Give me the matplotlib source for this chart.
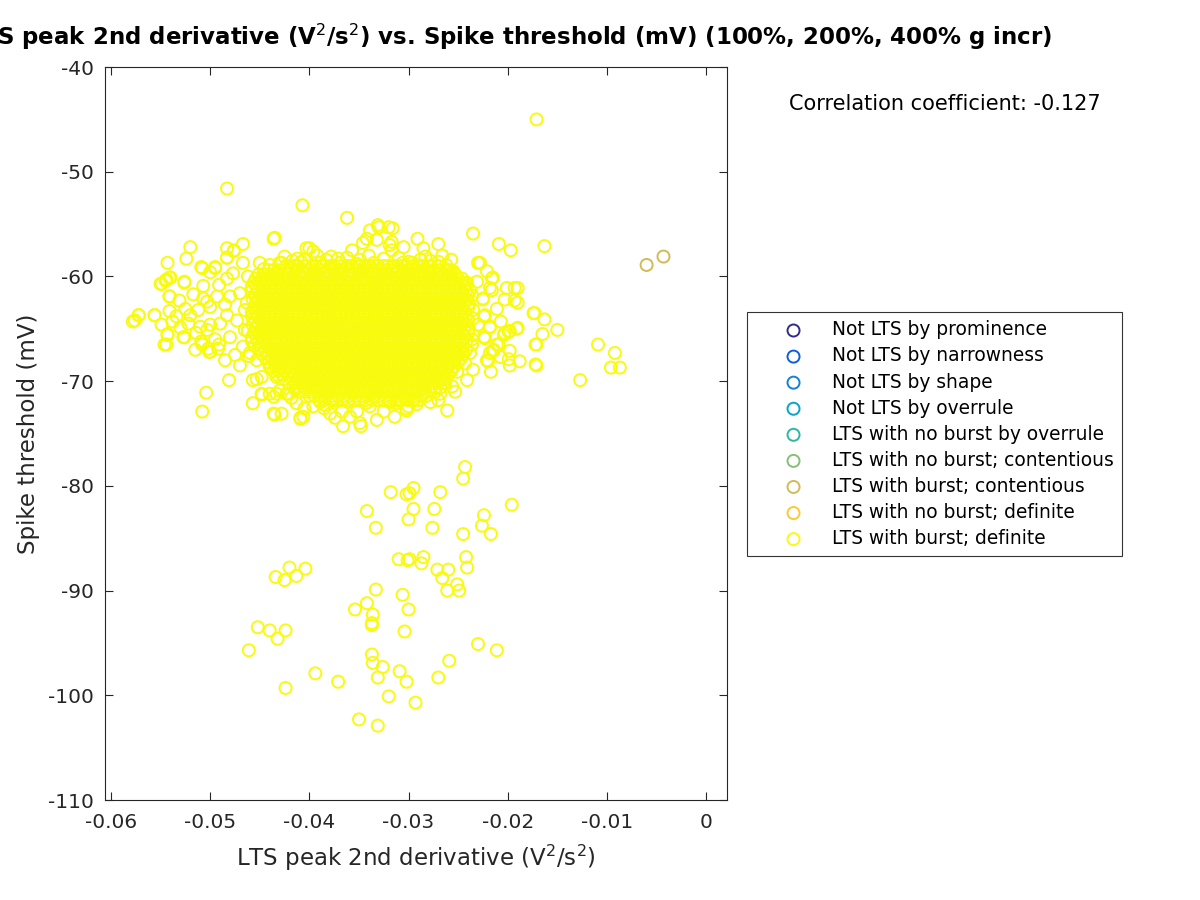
import numpy as np
import matplotlib
matplotlib.use("Agg")
import matplotlib.pyplot as plt

plt.rcParams["font.family"] = "DejaVu Sans"
plt.rcParams["axes.unicode_minus"] = False

# ── categories (legend order) and their parula colours ─────────────────────────
labels = ["Not LTS by prominence", "Not LTS by narrowness", "Not LTS by shape",
          "Not LTS by overrule", "LTS with no burst by overrule",
          "LTS with no burst; contentious", "LTS with burst; contentious",
          "LTS with no burst; definite", "LTS with burst; definite"]
colors = ["#352a87", "#0f5cdd", "#1481d6", "#06a4ca", "#2eb7a4",
          "#87bf77", "#d1bb59", "#fec832", "#f9fb0e"]

CORR = -0.127

# x values below are in units of 1e-4 V^2/s^2, y in mV
contentious_x = [-60, -43]
contentious_y = [-58.9, -58.1]

# scattered "LTS with burst; definite" points outside the solid core
definite_x = [
    # low-threshold group
    -243, -245, -318, -302, -299, -295, -268, -342, -295, -274, -300, -333, -276,
    -196, -224, -226, -217, -245, -242, -241, -310, -301, -299, -285, -287, -271,
    -260, -266, -251, -261, -249, -420, -404, -434, -425, -413, -333, -342, -354,
    -336, -337, -337, -306, -300, -304, -452, -440, -424, -432, -461, -230, -211,
    -259, -270, -337, -336, -326, -309, -302, -331, -394, -371, -424, -320, -293,
    -350, -331,
    # right tail
    -171, -209, -197, -163, -109, -92, -96, -87, -127, -150, -165, -163, -173,
    -171, -171, -190, -190, -190, -201, -203, -211, -207, -198, -203, -198, -188,
    -198, -207, -215, -220, -217, -209, -215, -221, -216, -225, -224, -218, -224,
    -228, -235, -362, -407, -331, -230, -174, -172, -172, -214, -220, -261, -348,
    -366, -302, -223,
    # left tail
    -483, -436, -520, -524, -543, -483, -476, -467, -483, -403, -549, -545, -541,
    -526, -509, -495, -541, -572, -578, -556, -546, -543, -526, -481, -504, -508,
    -457, -448, -453, -435, -409, -501, -508, -492,
    # left lobe
    -508, -495, -500, -476, -483, -467, -450, -446, -430, -550, -544, -540, -526,
    -507, -541, -531, -517, -507, -503, -491, -483, -477, -572, -576, -556, -541,
    -534, -525, -512, -500, -549, -538, -522, -510, -500, -483, -490, -543, -527,
    -514, -503, -544, -509, -502, -491, -500, -480, -473, -480, -493, -470, -467,
    -460, -453, -457, -448, -440, -448, -440, -433, -520, -495, -485, -465, -465,
    -475, -485, -470, -515, -530, -462, -463, -462, -461,
    # top fringe
    -435, -339, -330, -320, -342, -332, -319, -346, -317, -400, -396, -378, -357,
    -428, -417, -408, -389, -369, -349, -335, -383, -362, -325, -300, -412, -278,
    -440, -425, -405, -392, -371, -352, -340, -310, -296, -283, -270, -262,
    # right fringe
    -316, -317, -305, -291, -285, -270, -306, -288, -266, -257, -260, -255, -216,
    -218, -231, -243, -238, -225, -193, -193, -223, -235, -218, -230, -199, -191,
    -204, -223, -235, -211, -236, -218, -221, -199, -238, -243, -235, -241, -251,
    -256, -253, -263, -268, -278, -270, -295, -302, -312, -285, -236, -235, -236,
    # bottom fringe
    -433, -436, -428, -421, -406, -413, -396, -389, -379, -374, -367, -359, -349,
    -352, -339, -332, -325, -319, -314, -361, -376, -310, -409, -436, -423, -414,
    -384, -343, -300, -292, -430, -418, -405, -385,
]
definite_y = [
    -78.2, -79.3, -80.6, -80.8, -80.7, -80.2, -80.6, -82.4, -82.2, -82.2, -83.2, -84.0, -84.0,
    -81.8, -82.8, -83.8, -84.6, -84.6, -86.8, -87.8, -87.0, -87.1, -87.0, -86.8, -87.4, -88.0,
    -88.0, -88.8, -89.4, -90.0, -90.0, -87.8, -87.9, -88.7, -89.0, -88.6, -89.9, -91.2, -91.8,
    -92.3, -93.1, -93.3, -90.4, -91.8, -93.9, -93.5, -93.8, -93.8, -94.6, -95.7, -95.1, -95.7,
    -96.7, -98.3, -96.1, -96.9, -97.3, -97.7, -98.7, -98.3, -97.9, -98.7, -99.3, -100.1, -100.7,
    -102.3, -102.9,
    -45.0, -56.9, -57.5, -57.1, -66.5, -67.3, -68.7, -68.7, -69.9, -65.1, -65.5, -64.1, -63.5,
    -66.5, -68.5, -64.9, -62.5, -61.1, -61.1, -62.2, -63.1, -64.3, -65.2, -65.4, -67.1, -68.1,
    -68.5, -67.7, -67.1, -68.1, -69.1, -66.5, -60.1, -59.5, -61.3, -62.2, -63.8, -64.9, -65.8,
    -58.7, -55.9, -54.4, -53.2, -55.1, -58.7, -63.5, -66.5, -68.4, -67.0, -68.1, -72.8, -74.3,
    -74.3, -72.8, -65.9,
    -51.6, -56.4, -57.2, -58.3, -58.7, -57.3, -57.5, -56.9, -58.2, -57.3, -60.7, -60.4, -60.1,
    -60.6, -59.1, -59.1, -61.9, -63.7, -64.3, -63.7, -66.5, -65.5, -65.8, -69.9, -71.1, -72.9,
    -72.1, -71.3, -69.8, -73.2, -73.6, -67.2, -66.5, -66.9,
    -59.2, -59.2, -59.6, -57.6, -58.2, -58.7, -58.7, -59.3, -58.7, -60.7, -60.3, -60.1, -60.5,
    -60.9, -61.9, -62.3, -61.7, -62.1, -62.4, -60.8, -60.2, -59.7, -63.7, -64.2, -63.7, -63.3,
    -63.8, -63.1, -63.2, -62.9, -64.6, -64.3, -64.5, -64.8, -64.6, -63.7, -64.5, -65.6, -65.8,
    -65.4, -65.1, -66.5, -66.2, -66.9, -66.5, -67.2, -65.8, -64.2, -61.9, -61.9, -61.6, -66.7,
    -67.3, -68.0, -69.9, -71.2, -71.2, -69.6, -68.6, -69.6, -63.7, -66.0, -62.7, -63.2, -65.1,
    -67.5, -68.0, -68.5, -67.0, -64.9, -60.0, -62.5, -65.2, -67.6,
    -56.3, -55.6, -55.3, -55.3, -56.4, -56.5, -57.0, -56.8, -57.5, -57.3, -57.6, -58.1, -57.5,
    -58.7, -58.5, -58.6, -58.7, -58.7, -58.4, -58.7, -58.4, -58.2, -58.3, -58.6, -58.3, -58.5,
    -58.9, -58.1, -58.4, -58.0, -58.3, -58.8, -58.0, -58.2, -58.7, -58.1, -58.6, -58.9,
    -55.4, -56.7, -57.2, -56.4, -57.3, -56.9, -58.7, -58.4, -58.0, -58.4, -59.4, -59.5, -60.2,
    -61.1, -60.5, -60.7, -61.3, -62.1, -61.1, -62.3, -63.7, -63.2, -64.8, -64.6, -65.3, -65.0,
    -65.6, -65.8, -65.6, -66.5, -66.5, -67.3, -68.0, -67.9, -67.3, -68.3, -68.9, -69.9, -69.1,
    -70.5, -71.0, -70.2, -71.2, -72.0, -71.8, -71.8, -72.6, -72.1, -71.2, -61.8, -64.0, -66.0,
    -71.2, -73.1, -73.1, -71.2, -73.4, -72.1, -72.4, -72.0, -73.1, -73.5, -72.9, -73.4, -74.0,
    -72.9, -72.4, -73.7, -72.9, -72.0, -73.4, -72.0, -71.8, -71.8, -73.5, -71.5, -71.2, -70.8,
    -72.3, -72.1, -72.4, -72.2, -70.9, -71.6, -72.6, -72.6,
]

# solid core of the "LTS with burst; definite" cloud, read row by row
core_y = [-59.0, -59.4, -59.8, -60.2, -60.6, -61.0, -61.4, -61.8, -62.2, -62.6, -63.0,
          -63.4, -63.8, -64.2, -64.6, -65.0, -65.4, -65.8, -66.2, -66.6, -67.0, -67.4,
          -67.8, -68.2, -68.6, -69.0, -69.4, -69.8, -70.2, -70.6, -71.0, -71.4, -71.8]
core_x = [
    [-423, -415, -411, -404, -397, -393, -386, -379, -375, -368, -361, -357, -350, -344,
     -339, -331, -326, -321, -314, -307, -303, -296, -291, -285, -278, -270],
    [-441, -436, -431, -425, -418, -413, -407, -401, -395, -390, -383, -377, -371, -366,
     -359, -353, -347, -341, -336, -329, -323, -317, -311, -306, -299, -293, -287, -281,
     -275, -269, -262, -258],
    [-451, -445, -439, -433, -428, -421, -415, -409, -404, -397, -391, -385, -379, -374,
     -367, -361, -355, -350, -343, -337, -331, -325, -320, -313, -307, -301, -296, -289,
     -283, -277, -272, -265, -259, -253],
    [-454, -448, -442, -437, -430, -424, -418, -413, -406, -400, -394, -389, -382, -376,
     -370, -365, -358, -352, -346, -341, -334, -328, -322, -317, -310, -304, -298, -293,
     -286, -280, -274, -269, -262, -256, -250, -246],
    [-456, -450, -444, -438, -432, -426, -420, -414, -408, -402, -396, -390, -384, -378,
     -372, -366, -360, -354, -348, -342, -336, -330, -324, -318, -312, -306, -300, -294,
     -288, -282, -276, -270, -264, -258, -252, -246, -241],
    [-458, -453, -447, -441, -435, -429, -423, -417, -411, -405, -399, -393, -387, -381,
     -375, -369, -363, -357, -351, -345, -339, -333, -327, -321, -315, -309, -303, -297,
     -291, -285, -279, -273, -267, -261, -255, -249, -243],
    [-458, -452, -446, -440, -434, -428, -422, -416, -410, -404, -398, -392, -386, -380,
     -374, -368, -362, -356, -350, -344, -338, -332, -326, -320, -314, -308, -302, -296,
     -290, -284, -278, -272, -266, -260, -254, -248, -242],
    [-455, -449, -443, -437, -431, -425, -419, -413, -407, -401, -395, -389, -383, -377,
     -371, -365, -359, -353, -347, -341, -335, -329, -323, -317, -311, -305, -299, -293,
     -287, -281, -275, -269, -263, -257, -251, -245, -240],
    [-457, -451, -445, -439, -433, -427, -421, -415, -409, -403, -397, -391, -385, -379,
     -373, -367, -361, -355, -349, -343, -337, -331, -325, -319, -313, -307, -301, -295,
     -289, -283, -277, -271, -265, -259, -253, -247, -241],
    [-454, -448, -442, -436, -430, -424, -418, -412, -406, -400, -394, -388, -382, -376,
     -370, -364, -358, -352, -346, -340, -334, -328, -322, -316, -310, -304, -298, -292,
     -286, -280, -274, -268, -262, -256, -250, -244, -239],
    [-456, -450, -444, -438, -432, -426, -420, -414, -408, -402, -396, -390, -384, -378,
     -372, -366, -360, -354, -348, -342, -336, -330, -324, -318, -312, -306, -300, -294,
     -288, -282, -276, -270, -264, -258, -252, -246, -240],
    [-458, -453, -447, -441, -435, -429, -423, -417, -411, -405, -399, -393, -387, -381,
     -375, -369, -363, -357, -351, -345, -339, -333, -327, -321, -315, -309, -303, -297,
     -291, -285, -279, -273, -267, -261, -255, -249, -243],
    [-458, -452, -446, -440, -434, -428, -422, -416, -410, -404, -398, -392, -386, -380,
     -374, -368, -362, -356, -350, -344, -338, -332, -326, -320, -314, -308, -302, -296,
     -290, -284, -278, -272, -266, -260, -254, -248, -242],
    [-455, -449, -443, -437, -431, -425, -419, -413, -407, -401, -395, -389, -383, -377,
     -371, -365, -359, -353, -347, -341, -335, -329, -323, -317, -311, -305, -299, -293,
     -287, -281, -275, -269, -263, -257, -251, -245, -240],
    [-457, -451, -445, -439, -433, -427, -421, -415, -409, -403, -397, -391, -385, -379,
     -373, -367, -361, -355, -349, -343, -337, -331, -325, -319, -313, -307, -301, -295,
     -289, -283, -277, -271, -265, -259, -253, -247, -241],
    [-454, -448, -442, -436, -430, -424, -418, -412, -406, -400, -394, -388, -382, -376,
     -370, -364, -358, -352, -346, -340, -334, -328, -322, -316, -310, -304, -298, -292,
     -286, -280, -274, -268, -262, -256, -250, -244, -239],
    [-456, -450, -444, -438, -432, -426, -420, -414, -408, -402, -396, -390, -384, -378,
     -372, -366, -360, -354, -348, -342, -336, -330, -324, -318, -312, -306, -300, -294,
     -288, -282, -276, -270, -264, -258, -252, -246, -240],
    [-458, -453, -447, -441, -435, -429, -423, -417, -411, -405, -399, -393, -387, -381,
     -375, -369, -363, -357, -351, -345, -339, -333, -327, -321, -315, -309, -303, -297,
     -291, -285, -279, -273, -267, -261, -255, -249, -243],
    [-458, -452, -446, -440, -434, -428, -422, -416, -410, -404, -398, -392, -386, -380,
     -374, -368, -362, -356, -350, -344, -338, -332, -326, -320, -314, -308, -302, -296,
     -290, -284, -278, -272, -266, -260, -254, -248, -242],
    [-455, -449, -443, -437, -431, -425, -419, -413, -407, -401, -395, -389, -383, -377,
     -371, -365, -359, -353, -347, -341, -335, -329, -323, -317, -311, -305, -299, -293,
     -287, -281, -275, -269, -263, -257, -251, -245],
    [-451, -445, -439, -433, -427, -421, -415, -409, -403, -397, -391, -385, -379, -373,
     -367, -361, -355, -349, -343, -337, -331, -325, -319, -313, -307, -301, -295, -289,
     -283, -277, -271, -265, -259, -253, -247, -242],
    [-448, -442, -436, -430, -424, -418, -412, -406, -400, -394, -388, -382, -376, -370,
     -364, -358, -352, -346, -340, -334, -328, -322, -316, -310, -304, -298, -292, -286,
     -280, -274, -268, -262, -256, -250, -245],
    [-444, -438, -432, -426, -420, -414, -408, -402, -396, -390, -384, -378, -372, -366,
     -360, -354, -348, -342, -336, -330, -324, -318, -312, -306, -300, -294, -288, -282,
     -276, -270, -264, -258, -252, -247],
    [-441, -435, -429, -423, -417, -411, -405, -399, -393, -387, -381, -375, -369, -363,
     -357, -351, -345, -339, -333, -327, -321, -315, -309, -303, -297, -291, -285, -279,
     -273, -267, -261, -255, -250],
    [-439, -434, -428, -422, -416, -410, -404, -398, -392, -386, -380, -374, -368, -362,
     -356, -350, -344, -338, -332, -326, -320, -314, -308, -302, -296, -290, -284, -278,
     -272, -266, -260, -254],
    [-436, -431, -425, -419, -413, -407, -401, -395, -389, -383, -377, -371, -365, -359,
     -353, -347, -341, -335, -329, -323, -317, -311, -305, -299, -293, -287, -281, -275,
     -269, -263, -257],
    [-432, -427, -421, -415, -409, -403, -397, -391, -385, -379, -373, -367, -361, -355,
     -349, -343, -337, -331, -325, -319, -313, -307, -301, -295, -289, -283, -277, -271,
     -265, -260],
    [-425, -418, -412, -406, -400, -394, -388, -382, -376, -370, -364, -358, -352, -346,
     -340, -334, -328, -322, -316, -310, -304, -298, -292, -286, -280, -274, -268, -263],
    [-420, -414, -408, -402, -396, -390, -384, -378, -372, -366, -360, -354, -348, -342,
     -336, -330, -324, -318, -312, -306, -300, -294, -288, -282, -276, -270, -265],
    [-416, -411, -405, -399, -393, -387, -381, -375, -369, -363, -357, -351, -345, -339,
     -333, -327, -321, -315, -309, -303, -297, -291, -285, -279, -273, -268],
    [-409, -404, -398, -392, -386, -380, -374, -368, -362, -356, -350, -344, -338, -332,
     -326, -320, -314, -308, -302, -296, -290, -284, -278, -273],
    [-400, -395, -389, -383, -377, -371, -365, -359, -353, -347, -341, -335, -329, -323,
     -317, -311, -305, -299, -293, -287, -282],
    [-390, -385, -379, -373, -367, -361, -355, -349, -343, -337, -331, -325, -319, -313,
     -307, -301, -295, -290],
]

# ── assemble the series ────────────────────────────────────────────────────────
xs_def = np.concatenate([np.array(definite_x, float)] + [np.array(r, float) for r in core_x]) * 1e-4
ys_def = np.concatenate([np.array(definite_y, float)] +
                        [np.full(len(r), y) for r, y in zip(core_x, core_y)])
series = {lab: (np.array([]), np.array([])) for lab in labels}
series["LTS with burst; contentious"] = (np.array(contentious_x) * 1e-4, np.array(contentious_y))
series["LTS with burst; definite"] = (xs_def, ys_def)

# ── figure ─────────────────────────────────────────────────────────────────────
fig = plt.figure(figsize=(12, 9), dpi=100)
ax = fig.add_axes([0.0875, 0.1111, 0.5183, 0.8144])

for lab, col in zip(labels, colors):
    x, y = series[lab]
    ax.scatter(x, y, s=75, facecolors="none", edgecolors=col, linewidths=1.4, label=lab)

ax.set_xlim(-0.0606, 0.0021)
ax.set_ylim(-110, -40)
ax.set_xticks(np.arange(-0.06, 0.001, 0.01))
ax.set_xticklabels(["-0.06", "-0.05", "-0.04", "-0.03", "-0.02", "-0.01", "0"])
ax.set_yticks(np.arange(-110, -39, 10))
ax.tick_params(direction="in", top=True, right=True, length=5.5, width=0.8,
               labelsize=14.5, colors="#262626")
ax.tick_params(axis="x", pad=9)
ax.tick_params(axis="y", pad=8)
for sp in ax.spines.values():
    sp.set_color("#262626")
    sp.set_linewidth(0.8)

ax.set_xlabel(r"LTS peak 2nd derivative (V$^2$/s$^2$)", fontsize=16.5,
              color="#262626", labelpad=8)
ax.set_ylabel("Spike threshold (mV)", fontsize=16.5, color="#262626", labelpad=6)
ax.set_title(r"LTS peak 2nd derivative (V$^2$/s$^2$) vs. Spike threshold (mV) "
             "(100%, 200%, 400% g incr)", fontsize=16.5, fontweight="bold",
             x=0.651, pad=16)

fig.text(0.7875, 0.885, f"Correlation coefficient: {CORR:.3f}", fontsize=15,
         ha="center", va="center")

leg = ax.legend(loc="upper left", bbox_to_anchor=(0.6225, 0.6533),
                bbox_transform=fig.transFigure, fontsize=13.4, frameon=True,
                fancybox=False, edgecolor="black", borderpad=0.45,
                handlelength=4.1, handletextpad=0.0, labelspacing=0.38,
                borderaxespad=0.0)
leg.get_frame().set_linewidth(0.8)

fig.savefig("out.png", dpi=100)
